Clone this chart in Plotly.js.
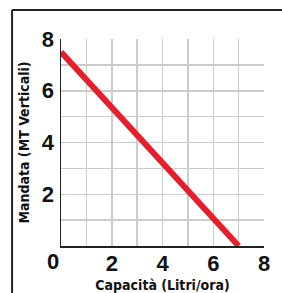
<!DOCTYPE html>
<html><head><meta charset="utf-8">
<script src="https://cdn.plot.ly/plotly-3.0.1.min.js"></script>
<style>html,body{margin:0;padding:0;background:#fff;}#c{width:282px;height:293px;}</style>
</head><body><div id="c"></div>
<script>
const capacita = [0, 7];
const mandata = [7.5, 0];
const gridVals = [0, 1, 2, 3, 4, 5, 6, 7, 8];
const xTickText = ['', '', '2', '', '4', '', '6', '', '8'];
const yTickText = ['', '', '2', '', '4', '', '6', '', '8'];
const xTitle = 'Capacità (Litri/ora)';
const yTitle = 'Mandata (MT Verticali)';
const cornerLabel = '0';

const tickFont = {family: '"Liberation Sans", Arial, sans-serif', size: 22, color: '#111', weight: 700};
const titleFont = {family: '"DejaVu Sans Condensed", "Liberation Sans Narrow", sans-serif', size: 14, color: '#111', weight: 700};

const trace = {
  x: capacita, y: mandata, type: 'scatter', mode: 'lines',
  line: {color: '#e3202b', width: 6}, hoverinfo: 'skip'
};
const layout = {
  width: 282, height: 293,
  margin: {l: 61, r: 18, t: 39, b: 47},
  paper_bgcolor: '#fff', plot_bgcolor: '#fff',
  showlegend: false,
  xaxis: {
    range: [0, 8], tickmode: 'array', tickvals: gridVals, ticktext: xTickText,
    showgrid: true, gridcolor: '#cccccc', gridwidth: 1.5,
    showline: true, linecolor: '#222', linewidth: 1.5, zeroline: false,
    ticks: '', tickfont: tickFont, ticklabelstandoff: -3,
    title: {text: xTitle, font: titleFont, standoff: 5}
  },
  yaxis: {
    range: [0, 8], tickmode: 'array', tickvals: gridVals, ticktext: yTickText,
    showgrid: true, gridcolor: '#cccccc', gridwidth: 1.5,
    showline: true, linecolor: '#222', linewidth: 1.5, zeroline: false,
    ticks: '', tickfont: tickFont, ticklabelstandoff: 1,
    title: {text: yTitle, font: titleFont, standoff: 9}
  },
  annotations: [{
    text: cornerLabel, xref: 'paper', yref: 'paper', x: -0.037, y: -0.075,
    showarrow: false, font: tickFont, xanchor: 'center', yanchor: 'middle'
  }],
  shapes: [
    {type: 'line', xref: 'paper', yref: 'paper', x0: -0.241, x1: -0.241, y0: -0.3, y1: 1.140, line: {color: '#222', width: 2}},
    {type: 'line', xref: 'paper', yref: 'paper', x0: -0.241, x1: 1.1, y0: 1.140, y1: 1.140, line: {color: '#222', width: 2}}
  ]
};
Plotly.newPlot('c', [trace], layout, {staticPlot: true, displayModeBar: false});
</script></body></html>
